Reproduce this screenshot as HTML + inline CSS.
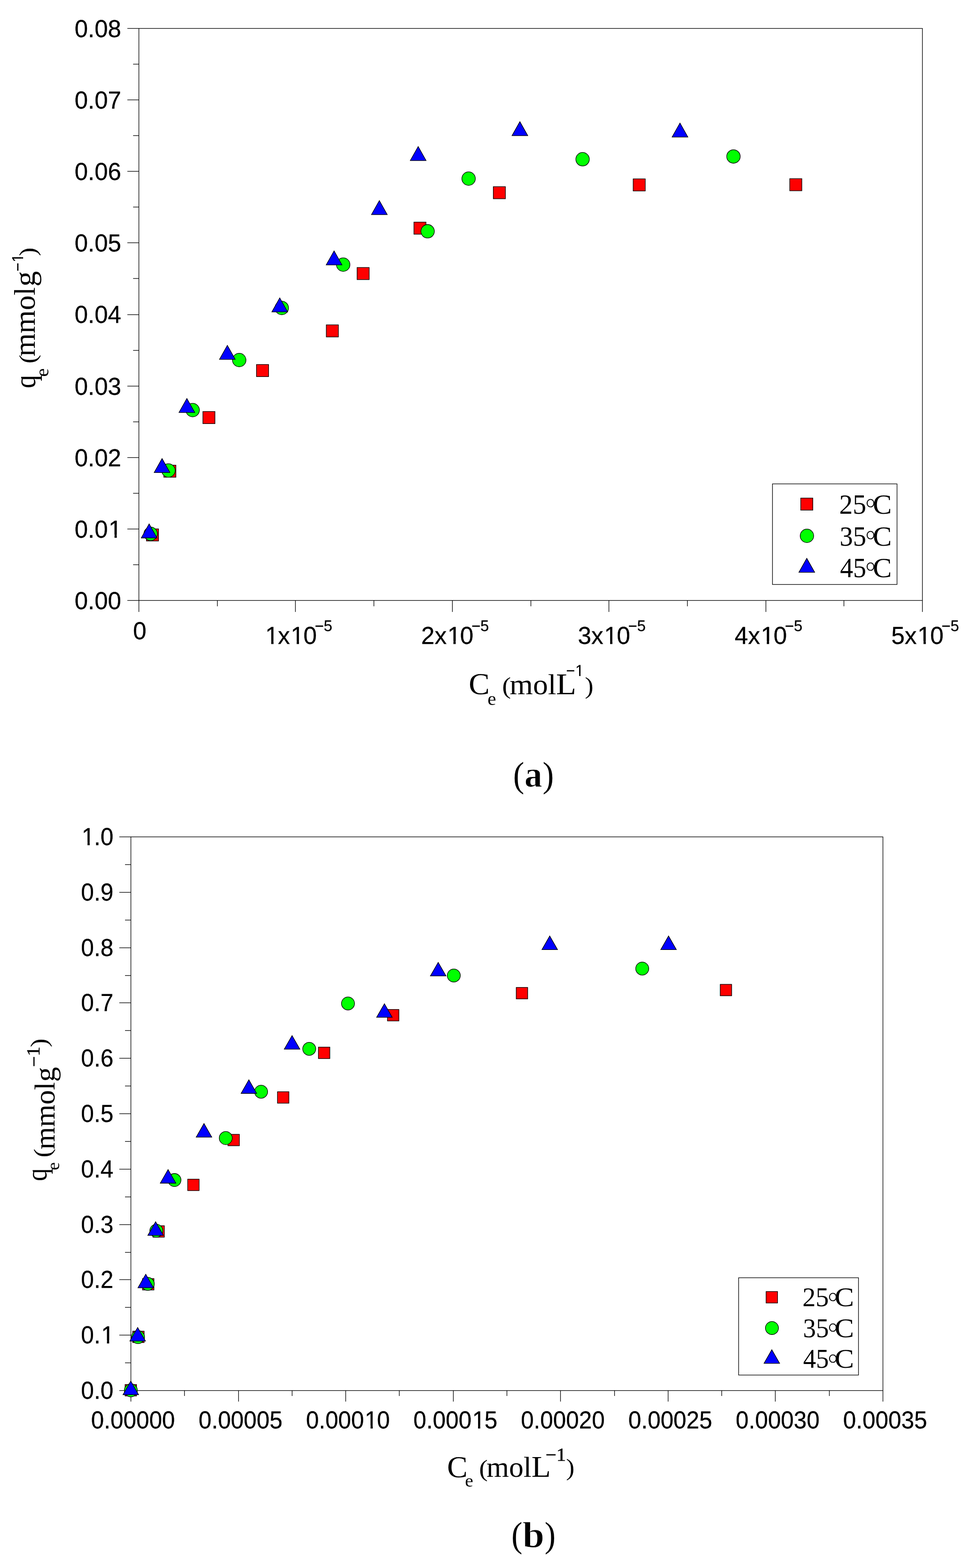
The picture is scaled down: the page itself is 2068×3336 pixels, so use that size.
<!DOCTYPE html>
<html lang="en"><head><meta charset="utf-8"><title>Adsorption isotherms at 25, 35 and 45 degrees C</title>
<style>
html,body{margin:0;padding:0;background:#fff;overflow:hidden}
svg{display:block}
text{fill:#000}
.sans{font-family:"Liberation Sans",Arial,Helvetica,sans-serif;stroke:#000;stroke-width:0.3}
.serif{font-family:"Liberation Serif","Times New Roman",Times,serif}
.serifb{font-family:"Liberation Serif","Times New Roman",Times,serif;font-weight:bold}
.fr{fill:none;stroke:#000;stroke-width:1.3}
.tk line{stroke:#000;stroke-width:1.3}
.ring{stroke:#fff;stroke-width:0.8}
.thin{stroke:#fff;stroke-width:1}
.b4{stroke:#000;stroke-width:0.4}
.b6{stroke:#000;stroke-width:0.6}
.lg{fill:#fff;stroke:#000;stroke-width:1.3}
.sq{fill:#f00;stroke:#000;stroke-width:1.3}
.ci{fill:#0f0;stroke:#000;stroke-width:1.3}
.tr{fill:#00f;stroke:#000;stroke-width:1.3;stroke-linejoin:miter}
</style></head><body>
<svg width="2068" height="3336" viewBox="0 0 2068 3336">
<rect width="2068" height="3336" fill="#fff"/>
<defs><clipPath id="c1"><path clip-rule="evenodd" d="M-9 -54.6H110.21V20.8H-9ZM76.48 -6.6H86.86V3H76.48ZM91.76 -6.6H101.87V3H91.76Z"/></clipPath><clipPath id="c2"><path clip-rule="evenodd" d="M-9 -54.6H121.76V20.8H-9ZM4.19 -6.6H14.57V3H4.19ZM19.47 -6.6H29.58V3H19.47ZM59.11 -6.6H69.49V3H59.11ZM74.39 -6.6H84.5V3H74.39Z"/></clipPath><clipPath id="c3"><path clip-rule="evenodd" d="M-9 -54.6H121.76V20.8H-9ZM59.11 -6.6H69.49V3H59.11ZM74.39 -6.6H84.5V3H74.39Z"/></clipPath><clipPath id="c4"><path clip-rule="evenodd" d="M-9 -54.6H121.76V20.8H-9ZM59.11 -6.6H69.49V3H59.11ZM74.39 -6.6H84.5V3H74.39Z"/></clipPath><clipPath id="c5"><path clip-rule="evenodd" d="M-9 -54.6H121.76V20.8H-9ZM59.11 -6.6H69.49V3H59.11ZM74.39 -6.6H84.5V3H74.39Z"/></clipPath><clipPath id="c6"><path clip-rule="evenodd" d="M-9 -54.6H121.76V20.8H-9ZM59.11 -6.6H69.49V3H59.11ZM74.39 -6.6H84.5V3H74.39Z"/></clipPath><clipPath id="c7"><path clip-rule="evenodd" d="M-9 -34.34H46.28V13.08H-9ZM21.73 -4.15H28.26V3H21.73ZM31.34 -4.15H37.7V3H31.34Z"/></clipPath><clipPath id="c8"><path clip-rule="evenodd" d="M-9 -35.07H47.08V13.36H-9ZM22.2 -4.24H28.87V3H22.2ZM32.01 -4.24H38.5V3H32.01Z"/></clipPath><clipPath id="c9"><path clip-rule="evenodd" d="M-9 -54.6H81.29V20.8H-9ZM47.56 -6.6H57.94V3H47.56ZM62.84 -6.6H72.95V3H62.84Z"/></clipPath><clipPath id="c10"><path clip-rule="evenodd" d="M-9 -54.6H81.29V20.8H-9ZM4.19 -6.6H14.57V3H4.19ZM19.47 -6.6H29.58V3H19.47Z"/></clipPath><clipPath id="c11"><path clip-rule="evenodd" d="M-9 -54.18H195.52V20.64H-9ZM133.28 -6.55H143.59V3H133.28ZM148.45 -6.55H158.48V3H148.45Z"/></clipPath><clipPath id="c12"><path clip-rule="evenodd" d="M-9 -54.18H195.52V20.64H-9ZM133.28 -6.55H143.59V3H133.28ZM148.45 -6.55H158.48V3H148.45Z"/></clipPath></defs>
<g id="chart-a">
<rect class="fr" x="295.5" y="60.5" width="1667" height="1217"/>
<g class="tk">
<line x1="271" y1="1277.5" x2="295.5" y2="1277.5"/>
<line x1="283.2" y1="1201.5" x2="295.5" y2="1201.5"/>
<line x1="271" y1="1125.5" x2="295.5" y2="1125.5"/>
<line x1="283.2" y1="1049.5" x2="295.5" y2="1049.5"/>
<line x1="271" y1="973.5" x2="295.5" y2="973.5"/>
<line x1="283.2" y1="897.5" x2="295.5" y2="897.5"/>
<line x1="271" y1="821.5" x2="295.5" y2="821.5"/>
<line x1="283.2" y1="745.5" x2="295.5" y2="745.5"/>
<line x1="271" y1="669.5" x2="295.5" y2="669.5"/>
<line x1="283.2" y1="592.5" x2="295.5" y2="592.5"/>
<line x1="271" y1="516.5" x2="295.5" y2="516.5"/>
<line x1="283.2" y1="440.5" x2="295.5" y2="440.5"/>
<line x1="271" y1="364.5" x2="295.5" y2="364.5"/>
<line x1="283.2" y1="288.5" x2="295.5" y2="288.5"/>
<line x1="271" y1="212.5" x2="295.5" y2="212.5"/>
<line x1="283.2" y1="136.5" x2="295.5" y2="136.5"/>
<line x1="271" y1="60.5" x2="295.5" y2="60.5"/>
<line x1="295.5" y1="1277.5" x2="295.5" y2="1301.9"/>
<line x1="462.5" y1="1277.5" x2="462.5" y2="1289.9"/>
<line x1="628.5" y1="1277.5" x2="628.5" y2="1301.9"/>
<line x1="795.5" y1="1277.5" x2="795.5" y2="1289.9"/>
<line x1="962.5" y1="1277.5" x2="962.5" y2="1301.9"/>
<line x1="1129.5" y1="1277.5" x2="1129.5" y2="1289.9"/>
<line x1="1295.5" y1="1277.5" x2="1295.5" y2="1301.9"/>
<line x1="1462.5" y1="1277.5" x2="1462.5" y2="1289.9"/>
<line x1="1629.5" y1="1277.5" x2="1629.5" y2="1301.9"/>
<line x1="1795.5" y1="1277.5" x2="1795.5" y2="1289.9"/>
<line x1="1962.5" y1="1277.5" x2="1962.5" y2="1301.9"/>
</g>
<g id="a-yticklabels">
<text class="sans" transform="translate(158.72,1295.9) scale(0.9780,1)" font-size="52">0.00</text>
<text class="sans" transform="translate(158.72,1143.78) scale(0.9780,1)" font-size="52" clip-path="url(#c1)">0.0<tspan dx="1.65">1</tspan></text>
<text class="sans" transform="translate(158.72,991.65) scale(0.9780,1)" font-size="52">0.02</text>
<text class="sans" transform="translate(158.72,839.52) scale(0.9780,1)" font-size="52">0.03</text>
<text class="sans" transform="translate(158.72,687.4) scale(0.9780,1)" font-size="52">0.04</text>
<text class="sans" transform="translate(158.72,535.27) scale(0.9780,1)" font-size="52">0.05</text>
<text class="sans" transform="translate(158.72,383.15) scale(0.9780,1)" font-size="52">0.06</text>
<text class="sans" transform="translate(158.72,231.03) scale(0.9780,1)" font-size="52">0.07</text>
<text class="sans" transform="translate(158.72,78.9) scale(0.9780,1)" font-size="52">0.08</text>
</g><g id="a-xticklabels">
<text class="sans" transform="translate(282.9,1360.2) scale(0.9856,1)" font-size="52">0</text>
<text class="sans" transform="translate(562.7,1370.3) scale(0.9870,1)" font-size="52" clip-path="url(#c2)"><tspan dx="1.65">1</tspan><tspan dx="-1.65">x</tspan><tspan dx="1.65">1</tspan><tspan dx="-1.65">0</tspan></text>
<text class="sans" transform="translate(669.48,1342.8) scale(1.0029,1)" font-size="32.8">−5</text>
<text class="sans" transform="translate(896.1,1370.3) scale(0.9870,1)" font-size="52" clip-path="url(#c3)">2x<tspan dx="1.65">1</tspan><tspan dx="-1.65">0</tspan></text>
<text class="sans" transform="translate(1002.88,1342.8) scale(1.0029,1)" font-size="32.8">−5</text>
<text class="sans" transform="translate(1229.5,1370.3) scale(0.9870,1)" font-size="52" clip-path="url(#c4)">3x<tspan dx="1.65">1</tspan><tspan dx="-1.65">0</tspan></text>
<text class="sans" transform="translate(1336.28,1342.8) scale(1.0029,1)" font-size="32.8">−5</text>
<text class="sans" transform="translate(1562.9,1370.3) scale(0.9870,1)" font-size="52" clip-path="url(#c5)">4x<tspan dx="1.65">1</tspan><tspan dx="-1.65">0</tspan></text>
<text class="sans" transform="translate(1669.68,1342.8) scale(1.0029,1)" font-size="32.8">−5</text>
<text class="sans" transform="translate(1896.3,1370.3) scale(0.9870,1)" font-size="52" clip-path="url(#c6)">5x<tspan dx="1.65">1</tspan><tspan dx="-1.65">0</tspan></text>
<text class="sans" transform="translate(2003.08,1342.8) scale(1.0029,1)" font-size="32.8">−5</text>
</g>
<g id="a-25C">
<rect class="sq" x="311.55" y="1125.25" width="25.7" height="25.7"/>
<rect class="sq" x="348.55" y="989.65" width="25.7" height="25.7"/>
<rect class="sq" x="431.65" y="875.55" width="25.7" height="25.7"/>
<rect class="sq" x="545.75" y="775.55" width="25.7" height="25.7"/>
<rect class="sq" x="694.25" y="691.15" width="25.7" height="25.7"/>
<rect class="sq" x="759.75" y="569.15" width="25.7" height="25.7"/>
<rect class="sq" x="880.65" y="472.55" width="25.7" height="25.7"/>
<rect class="sq" x="1049.55" y="397.15" width="25.7" height="25.7"/>
<rect class="sq" x="1347.15" y="380.55" width="25.7" height="25.7"/>
<rect class="sq" x="1680.25" y="380.15" width="25.7" height="25.7"/>
</g><g id="a-35C">
<circle class="ci" cx="320.5" cy="1135.8" r="14.35"/>
<circle class="ci" cx="358.4" cy="1001" r="14.35"/>
<circle class="ci" cx="409.9" cy="872.5" r="14.35"/>
<circle class="ci" cx="509" cy="766" r="14.35"/>
<circle class="ci" cx="599.5" cy="655.2" r="14.35"/>
<circle class="ci" cx="730.2" cy="563" r="14.35"/>
<circle class="ci" cx="909.8" cy="492.1" r="14.35"/>
<circle class="ci" cx="997" cy="380" r="14.35"/>
<circle class="ci" cx="1239.5" cy="338.8" r="14.35"/>
<circle class="ci" cx="1560.5" cy="332.9" r="14.35"/>
</g><g id="a-45C">
<path class="tr" d="M317.3 1114.66L334.07 1144.5L300.53 1144.5Z"/>
<path class="tr" d="M344.8 975.61L361.57 1005.45L328.03 1005.45Z"/>
<path class="tr" d="M397.6 847.71L414.37 877.55L380.83 877.55Z"/>
<path class="tr" d="M483.7 734.76L500.47 764.6L466.93 764.6Z"/>
<path class="tr" d="M595.2 633.76L611.97 663.6L578.43 663.6Z"/>
<path class="tr" d="M710.8 533.71L727.57 563.55L694.03 563.55Z"/>
<path class="tr" d="M807.1 426.71L823.87 456.55L790.33 456.55Z"/>
<path class="tr" d="M889.7 311.71L906.47 341.55L872.93 341.55Z"/>
<path class="tr" d="M1106.1 258.81L1122.87 288.65L1089.33 288.65Z"/>
<path class="tr" d="M1446.7 261.71L1463.47 291.55L1429.93 291.55Z"/>
</g>
<g id="legend-a">
<rect class="lg" x="1643.5" y="1029.5" width="265" height="214"/>
<rect class="sq" x="1703.65" y="1059.65" width="25.7" height="25.7"/>
<circle class="ci" cx="1716.8" cy="1140" r="14.35"/>
<path class="tr" d="M1716.5 1187.84L1733.27 1217.68L1699.73 1217.68Z"/>
<text class="serif" transform="translate(1785.57,1093) scale(0.9741,1)" font-size="59">25</text>
<text class="serif ring" transform="translate(1840.79,1102.2) scale(0.9149,1)" font-size="62">°</text>
<text class="serif" transform="translate(1857.12,1093) scale(1.0244,1)" font-size="59">C</text>
<text class="serif" transform="translate(1786.6,1160.6) scale(0.9560,1)" font-size="59">35</text>
<text class="serif ring" transform="translate(1840.79,1169.8) scale(0.9149,1)" font-size="62">°</text>
<text class="serif" transform="translate(1857.12,1160.6) scale(1.0244,1)" font-size="59">C</text>
<text class="serif" transform="translate(1787.21,1228.1) scale(0.9452,1)" font-size="59">45</text>
<text class="serif ring" transform="translate(1840.79,1237.3) scale(0.9149,1)" font-size="62">°</text>
<text class="serif" transform="translate(1857.12,1228.1) scale(1.0244,1)" font-size="59">C</text>
</g>
<g id="a-xtitle">
<text class="serif" transform="translate(997.16,1476.9) scale(1.0037,1)" font-size="66.5">C</text>
<text class="serif" transform="translate(1037.19,1499.8) scale(1.0335,1)" font-size="40">e</text>
<text class="serif" transform="translate(1068.32,1476) scale(1.1070,1)" font-size="51">(</text>
<text class="serif" transform="translate(1084.36,1476.8) scale(1.0276,1)" font-size="62">mol</text>
<text class="serif" transform="translate(1182.97,1476.8) scale(1.1016,1)" font-size="64">L</text>
<text class="sans" transform="translate(1204.21,1437.5) scale(0.9875,1)" font-size="32.7" clip-path="url(#c7)">−<tspan dx="1.04">1</tspan></text>
<text class="serif" transform="translate(1244.32,1476) scale(1.0841,1)" font-size="51">)</text>
</g>
<g id="a-ytitle" transform="translate(73.5,0) rotate(-90)">
<text class="serif" transform="translate(-826.03,1) scale(0.8973,1)" font-size="62.5">q</text>
<text class="serif" transform="translate(-801.38,29) scale(1.0392,1)" font-size="39">e</text>
<text class="serif" transform="translate(-773.58,2.7) scale(1.1070,1)" font-size="51">(</text>
<text class="serif" transform="translate(-758.33,0) scale(1.0113,1)" font-size="62.5">mmol</text>
<text class="serif" transform="translate(-609.75,0) scale(1.0594,1)" font-size="62.5">g</text>
<text class="sans" transform="translate(-577.57,-24.6) scale(0.9504,1)" font-size="33.4" clip-path="url(#c8)">−<tspan dx="1.06">1</tspan></text>
<text class="serif" transform="translate(-544.74,2.7) scale(1.0612,1)" font-size="51">)</text>
</g>
<g id="a-caption">
<text class="serif" transform="translate(1091.79,1673.8) scale(0.9275,1)" font-size="76.4">(</text>
<text class="serifb thin" transform="translate(1115.85,1673.9) scale(0.9620,1)" font-size="79">a</text>
<text class="serif" transform="translate(1154.39,1673.8) scale(0.9377,1)" font-size="76.4">)</text>
</g>
</g>
<g id="chart-b">
<rect class="fr" x="278.5" y="1780.5" width="1600" height="1178"/>
<g class="tk">
<line x1="254" y1="2958.5" x2="278.5" y2="2958.5"/>
<line x1="266" y1="2899.5" x2="278.5" y2="2899.5"/>
<line x1="254" y1="2840.5" x2="278.5" y2="2840.5"/>
<line x1="266" y1="2781.5" x2="278.5" y2="2781.5"/>
<line x1="254" y1="2722.5" x2="278.5" y2="2722.5"/>
<line x1="266" y1="2664.5" x2="278.5" y2="2664.5"/>
<line x1="254" y1="2605.5" x2="278.5" y2="2605.5"/>
<line x1="266" y1="2546.5" x2="278.5" y2="2546.5"/>
<line x1="254" y1="2487.5" x2="278.5" y2="2487.5"/>
<line x1="266" y1="2428.5" x2="278.5" y2="2428.5"/>
<line x1="254" y1="2369.5" x2="278.5" y2="2369.5"/>
<line x1="266" y1="2310.5" x2="278.5" y2="2310.5"/>
<line x1="254" y1="2251.5" x2="278.5" y2="2251.5"/>
<line x1="266" y1="2192.5" x2="278.5" y2="2192.5"/>
<line x1="254" y1="2133.5" x2="278.5" y2="2133.5"/>
<line x1="266" y1="2075.5" x2="278.5" y2="2075.5"/>
<line x1="254" y1="2016.5" x2="278.5" y2="2016.5"/>
<line x1="266" y1="1957.5" x2="278.5" y2="1957.5"/>
<line x1="254" y1="1898.5" x2="278.5" y2="1898.5"/>
<line x1="266" y1="1839.5" x2="278.5" y2="1839.5"/>
<line x1="254" y1="1780.5" x2="278.5" y2="1780.5"/>
<line x1="278.5" y1="2958.5" x2="278.5" y2="2981.9"/>
<line x1="392.5" y1="2958.5" x2="392.5" y2="2970"/>
<line x1="507.5" y1="2958.5" x2="507.5" y2="2981.9"/>
<line x1="621.5" y1="2958.5" x2="621.5" y2="2970"/>
<line x1="735.5" y1="2958.5" x2="735.5" y2="2981.9"/>
<line x1="849.5" y1="2958.5" x2="849.5" y2="2970"/>
<line x1="964.5" y1="2958.5" x2="964.5" y2="2981.9"/>
<line x1="1078.5" y1="2958.5" x2="1078.5" y2="2970"/>
<line x1="1192.5" y1="2958.5" x2="1192.5" y2="2981.9"/>
<line x1="1307.5" y1="2958.5" x2="1307.5" y2="2970"/>
<line x1="1421.5" y1="2958.5" x2="1421.5" y2="2981.9"/>
<line x1="1535.5" y1="2958.5" x2="1535.5" y2="2970"/>
<line x1="1649.5" y1="2958.5" x2="1649.5" y2="2981.9"/>
<line x1="1764.5" y1="2958.5" x2="1764.5" y2="2970"/>
<line x1="1878.5" y1="2958.5" x2="1878.5" y2="2981.9"/>
</g>
<g id="b-yticklabels">
<text class="sans" transform="translate(172.27,2975.9) scale(0.9550,1)" font-size="52">0.0</text>
<text class="sans" transform="translate(172.27,2858.1) scale(0.9550,1)" font-size="52" clip-path="url(#c9)">0.<tspan dx="1.65">1</tspan></text>
<text class="sans" transform="translate(172.27,2740.3) scale(0.9550,1)" font-size="52">0.2</text>
<text class="sans" transform="translate(172.27,2622.5) scale(0.9550,1)" font-size="52">0.3</text>
<text class="sans" transform="translate(172.27,2504.7) scale(0.9550,1)" font-size="52">0.4</text>
<text class="sans" transform="translate(172.27,2386.9) scale(0.9550,1)" font-size="52">0.5</text>
<text class="sans" transform="translate(172.27,2269.1) scale(0.9550,1)" font-size="52">0.6</text>
<text class="sans" transform="translate(172.27,2151.3) scale(0.9550,1)" font-size="52">0.7</text>
<text class="sans" transform="translate(172.27,2033.5) scale(0.9550,1)" font-size="52">0.8</text>
<text class="sans" transform="translate(172.27,1915.7) scale(0.9550,1)" font-size="52">0.9</text>
<text class="sans" transform="translate(172.27,1797.9) scale(0.9550,1)" font-size="52" clip-path="url(#c10)"><tspan dx="1.65">1</tspan><tspan dx="-1.65">.0</tspan></text>
</g><g id="b-xticklabels">
<text class="sans" transform="translate(193.87,3039.2) scale(0.9568,1)" font-size="51.6">0.00000</text>
<text class="sans" transform="translate(422.44,3039.2) scale(0.9576,1)" font-size="51.6">0.00005</text>
<text class="sans" transform="translate(651.01,3039.2) scale(0.9568,1)" font-size="51.6" clip-path="url(#c11)">0.000<tspan dx="1.64">1</tspan><tspan dx="-1.64">0</tspan></text>
<text class="sans" transform="translate(879.58,3039.2) scale(0.9576,1)" font-size="51.6" clip-path="url(#c12)">0.000<tspan dx="1.64">1</tspan><tspan dx="-1.64">5</tspan></text>
<text class="sans" transform="translate(1108.16,3039.2) scale(0.9568,1)" font-size="51.6">0.00020</text>
<text class="sans" transform="translate(1336.73,3039.2) scale(0.9576,1)" font-size="51.6">0.00025</text>
<text class="sans" transform="translate(1565.3,3039.2) scale(0.9568,1)" font-size="51.6">0.00030</text>
<text class="sans" transform="translate(1793.87,3039.2) scale(0.9576,1)" font-size="51.6">0.00035</text>
</g>
<g id="b-25C">
<rect class="sq" x="266.15" y="2945.65" width="24.3" height="24.3"/>
<rect class="sq" x="282.35" y="2832.15" width="24.3" height="24.3"/>
<rect class="sq" x="303.25" y="2720.25" width="24.3" height="24.3"/>
<rect class="sq" x="325.35" y="2607.85" width="24.3" height="24.3"/>
<rect class="sq" x="399.35" y="2508.75" width="24.3" height="24.3"/>
<rect class="sq" x="484.95" y="2413.35" width="24.3" height="24.3"/>
<rect class="sq" x="590.35" y="2322.75" width="24.3" height="24.3"/>
<rect class="sq" x="677.45" y="2227.85" width="24.3" height="24.3"/>
<rect class="sq" x="824.35" y="2147.75" width="24.3" height="24.3"/>
<rect class="sq" x="1098.35" y="2100.85" width="24.3" height="24.3"/>
<rect class="sq" x="1532.35" y="2094.25" width="24.3" height="24.3"/>
</g><g id="b-35C">
<circle class="ci" cx="278.4" cy="2958" r="13.85"/>
<circle class="ci" cx="293.7" cy="2844.7" r="13.85"/>
<circle class="ci" cx="314.4" cy="2731.5" r="13.85"/>
<circle class="ci" cx="332.6" cy="2618.4" r="13.85"/>
<circle class="ci" cx="371.2" cy="2510.6" r="13.85"/>
<circle class="ci" cx="480.3" cy="2421.3" r="13.85"/>
<circle class="ci" cx="555.5" cy="2322.7" r="13.85"/>
<circle class="ci" cx="657.9" cy="2231.5" r="13.85"/>
<circle class="ci" cx="740.4" cy="2134.9" r="13.85"/>
<circle class="ci" cx="965.5" cy="2075.4" r="13.85"/>
<circle class="ci" cx="1366.4" cy="2060.7" r="13.85"/>
</g><g id="b-45C">
<path class="tr" d="M278.3 2938.41L294.87 2967.35L261.73 2967.35Z"/>
<path class="tr" d="M292.9 2824.21L309.47 2853.15L276.33 2853.15Z"/>
<path class="tr" d="M310.1 2711.01L326.67 2739.95L293.53 2739.95Z"/>
<path class="tr" d="M331.1 2599.41L347.67 2628.35L314.53 2628.35Z"/>
<path class="tr" d="M357.6 2488.31L374.17 2517.25L341.03 2517.25Z"/>
<path class="tr" d="M434 2390.41L450.57 2419.35L417.43 2419.35Z"/>
<path class="tr" d="M529.5 2297.31L546.07 2326.25L512.93 2326.25Z"/>
<path class="tr" d="M621.4 2203.21L637.97 2232.15L604.83 2232.15Z"/>
<path class="tr" d="M817.9 2135.51L834.47 2164.45L801.33 2164.45Z"/>
<path class="tr" d="M932.3 2047.51L948.87 2076.45L915.73 2076.45Z"/>
<path class="tr" d="M1169.6 1991.41L1186.17 2020.35L1153.03 2020.35Z"/>
<path class="tr" d="M1422.4 1991.41L1438.97 2020.35L1405.83 2020.35Z"/>
</g>
<g id="legend-b">
<rect class="lg" x="1571.5" y="2718.5" width="255" height="207"/>
<rect class="sq" x="1629.95" y="2747.85" width="24.3" height="24.3"/>
<circle class="ci" cx="1642.4" cy="2825.4" r="13.85"/>
<path class="tr" d="M1642.1 2871.64L1658.67 2900.58L1625.53 2900.58Z"/>
<text class="serif" transform="translate(1707.23,2779) scale(0.9702,1)" font-size="58">25</text>
<text class="serif ring" transform="translate(1760.8,2790.6) scale(0.9096,1)" font-size="62">°</text>
<text class="serif" transform="translate(1775.66,2779) scale(1.0663,1)" font-size="58">C</text>
<text class="serif" transform="translate(1708.47,2844.5) scale(0.9479,1)" font-size="58">35</text>
<text class="serif ring" transform="translate(1760.8,2856.1) scale(0.9096,1)" font-size="62">°</text>
<text class="serif" transform="translate(1775.66,2844.5) scale(1.0663,1)" font-size="58">C</text>
<text class="serif" transform="translate(1708.63,2910) scale(0.9450,1)" font-size="58">45</text>
<text class="serif ring" transform="translate(1760.8,2921.6) scale(0.9096,1)" font-size="62">°</text>
<text class="serif" transform="translate(1775.66,2910) scale(1.0663,1)" font-size="58">C</text>
</g>
<g id="b-xtitle">
<text class="serif" transform="translate(951.23,3142.6) scale(1.0026,1)" font-size="65">C</text>
<text class="serif" transform="translate(989.25,3163.4) scale(1.0677,1)" font-size="37.2">e</text>
<text class="serif" transform="translate(1019.25,3141.1) scale(1.0917,1)" font-size="51">(</text>
<text class="serif" transform="translate(1035.11,3141.9) scale(0.9935,1)" font-size="62">mol</text>
<text class="serif" transform="translate(1130.86,3141.9) scale(1.0507,1)" font-size="64">L</text>
<text class="serif b6" transform="translate(1160.76,3109.2) scale(0.9995,1)" font-size="41">−<tspan dy="-1.6">1</tspan></text>
<text class="serif" transform="translate(1204.36,3139.3) scale(1.0612,1)" font-size="51">)</text>
</g>
<g id="b-ytitle" transform="translate(115.8,0) rotate(-90)">
<text class="serif" transform="translate(-2512.85,-17) scale(0.8862,1)" font-size="61">q</text>
<text class="serif" transform="translate(-2489.81,9.9) scale(1.0221,1)" font-size="37.8">e</text>
<text class="serif" transform="translate(-2462.55,-8.6) scale(1.0917,1)" font-size="51">(</text>
<text class="serif" transform="translate(-2445.49,0) scale(1.0076,1)" font-size="61">mmol</text>
<text class="serif" transform="translate(-2301.63,0) scale(1.0405,1)" font-size="61">g</text>
<text class="serif b6" transform="translate(-2269.93,-29.6) scale(0.9944,1)" font-size="41">−<tspan dy="-1.8">1</tspan></text>
<text class="serif" transform="translate(-2228.09,-15.5) scale(1.0917,1)" font-size="51">)</text>
</g>
<g id="b-caption">
<text class="serif" transform="translate(1087.9,3290.6) scale(0.9224,1)" font-size="76.4">(</text>
<text class="serifb thin" transform="translate(1111.64,3291.7) scale(1.0546,1)" font-size="79">b</text>
<text class="serif" transform="translate(1158.74,3290.6) scale(0.9173,1)" font-size="76.4">)</text>
</g>
</g>
</svg></body></html>
